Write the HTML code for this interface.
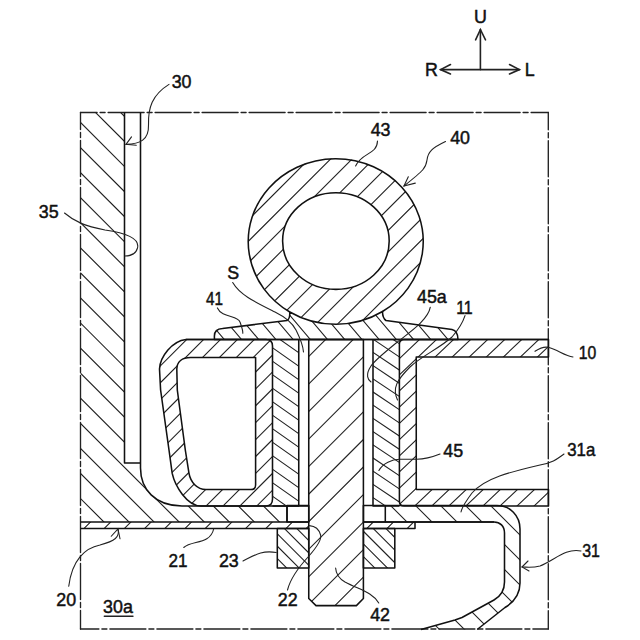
<!DOCTYPE html>
<html><head><meta charset="utf-8"><style>html,body{margin:0;padding:0;background:#fff;width:640px;height:640px;overflow:hidden}svg{display:block}</style></head>
<body><svg width="640" height="640" viewBox="0 0 640 640">
<defs><clipPath id="c1"><path d="M80.5 112.5L124.5 112.5L124.5 463L140.5 463L140.5 468C140.5 489 155 506 182 506L287 506L287 522L80.5 522Z" clip-rule="evenodd" fill-rule="evenodd"/></clipPath><clipPath id="c2"><path d="M80.5 522H308.75V528.5H80.5Z M363.4 522H415V528.5H363.4Z" clip-rule="evenodd" fill-rule="evenodd"/></clipPath><clipPath id="c3"><path d="M186 339.5L266 339.5Q272.5 339.5 272.5 346L272.5 499Q272.5 506 266 506L201 506C187 506 175 486 172.2 473.4L169 450L160.6 390L159.5 369C160 357 172 341 186 339.5Z M190.6 357.5L255.6 357.5L255.6 485Q255.6 489.5 251 489.5L206 489.5C197 489.5 190.5 482 189 473.4L185.3 450L177.3 390L176.8 369C177 362 182 357.5 190.6 357.5Z" clip-rule="evenodd" fill-rule="evenodd"/></clipPath><clipPath id="c4"><path d="M272.5 339.5H298.75V505.5H272.5Z" clip-rule="evenodd" fill-rule="evenodd"/></clipPath><clipPath id="c5"><path d="M373 339.5H399.4V505.5H373Z" clip-rule="evenodd" fill-rule="evenodd"/></clipPath><clipPath id="c6"><path d="M404 339.5L548.5 339.5L548.5 357L416.25 357L416.25 489.5L548.5 489.5L548.5 506L404 506Q399.4 506 399.4 501L399.4 344Q399.4 339.5 404 339.5Z" clip-rule="evenodd" fill-rule="evenodd"/></clipPath><clipPath id="c7"><path d="M385.3 505.5L497 505.5C510 505.5 520 515.5 520 529L520 583C520 595 514 602 505 607.5L477.2 629.5L421 629.5L455 620L462 617.5L494 600C501 596 504.5 590 504.5 582L504.5 533C504.5 526 500 522 494 522L385.3 522Z" clip-rule="evenodd" fill-rule="evenodd"/></clipPath><clipPath id="c8"><path d="M277.3 528.5H308.75V568H277.3Z" clip-rule="evenodd" fill-rule="evenodd"/></clipPath><clipPath id="c9"><path d="M363.4 528.5H394.8V568H363.4Z" clip-rule="evenodd" fill-rule="evenodd"/></clipPath><clipPath id="c10"><path d="M248.39999999999998 241.05A87.5 82.8 0 1 0 423.4 241.05A87.5 82.8 0 1 0 248.39999999999998 241.05Z M282.59999999999997 241.05A53.3 48.3 0 1 0 389.2 241.05A53.3 48.3 0 1 0 282.59999999999997 241.05Z" clip-rule="evenodd" fill-rule="evenodd"/></clipPath><clipPath id="c11"><path d="M214.4 339.5L214.4 336C214.4 331 217 328.8 222.5 328.5L287 320.5Q290 319 289.8 312A87.5 82.8 0 0 0 382.5 311.5Q382.5 318 386 320.5L452 329.5Q458 331 458 339.5Z" clip-rule="evenodd" fill-rule="evenodd"/></clipPath><clipPath id="c12"><path d="M308.75 339.5L363.4 339.5L363.4 598.5L356.4 605.6L316 605.6L308.75 598.5Z" clip-rule="evenodd" fill-rule="evenodd"/></clipPath></defs>
<rect width="640" height="640" fill="#fff"/>
<path d="M80.5 112.5H548.3" stroke="#222" stroke-width="1.35" fill="none" stroke-linecap="round" stroke-dasharray="36 3 5 3" stroke-dashoffset="19.4" stroke-linecap="butt"/>
<path d="M80.5 112.5V629" stroke="#222" stroke-width="1.35" fill="none" stroke-linecap="round" stroke-dasharray="36 3 5 3" stroke-dashoffset="19" stroke-linecap="butt"/>
<path d="M548.3 112.5V629" stroke="#222" stroke-width="1.35" fill="none" stroke-linecap="round" stroke-dasharray="36 3 5 3" stroke-dashoffset="18.8" stroke-linecap="butt"/>
<path d="M80.5 629H548.3" stroke="#222" stroke-width="1.35" fill="none" stroke-linecap="round" stroke-dasharray="36 3 5 3" stroke-dashoffset="17.6" stroke-linecap="butt"/>
<path clip-path="url(#c1)" d="M80.00 -103.63L290.00 106.37M80.00 -78.56L290.00 131.44M80.00 -53.49L290.00 156.51M80.00 -28.42L290.00 181.58M80.00 -3.35L290.00 206.65M80.00 21.72L290.00 231.72M80.00 46.79L290.00 256.79M80.00 71.86L290.00 281.86M80.00 96.93L290.00 306.93M80.00 122.00L290.00 332.00M80.00 147.07L290.00 357.07M80.00 172.14L290.00 382.14M80.00 197.21L290.00 407.21M80.00 222.28L290.00 432.28M80.00 247.35L290.00 457.35M80.00 272.42L290.00 482.42M80.00 297.49L290.00 507.49M80.00 322.56L290.00 532.56M80.00 347.63L290.00 557.63M80.00 372.70L290.00 582.70M80.00 397.77L290.00 607.77M80.00 422.84L290.00 632.84M80.00 447.91L290.00 657.91M80.00 472.98L290.00 682.98M80.00 498.05L290.00 708.05" stroke="#222" stroke-width="1.15" fill="none"/>
<path d="M124.5 112.5V463H140.5" stroke="#111" stroke-width="1.55" fill="none" stroke-linejoin="round" />
<path d="M140.5 112.5V468C140.5 489 155 506 182 506H308.75" stroke="#111" stroke-width="1.55" fill="none" stroke-linejoin="round" />
<path d="M287 506V522" stroke="#111" stroke-width="1.55" fill="none" stroke-linejoin="round" />
<path clip-path="url(#c2)" d="M80.00 512.30L416.00 176.30M80.00 532.50L416.00 196.50M80.00 552.70L416.00 216.70M80.00 572.90L416.00 236.90M80.00 593.10L416.00 257.10M80.00 613.30L416.00 277.30M80.00 633.50L416.00 297.50M80.00 653.70L416.00 317.70M80.00 673.90L416.00 337.90M80.00 694.10L416.00 358.10M80.00 714.30L416.00 378.30M80.00 734.50L416.00 398.50M80.00 754.70L416.00 418.70M80.00 774.90L416.00 438.90M80.00 795.10L416.00 459.10M80.00 815.30L416.00 479.30M80.00 835.50L416.00 499.50M80.00 855.70L416.00 519.70" stroke="#222" stroke-width="1.1" fill="none"/>
<path d="M80.5 522H308.75M363.4 522H494" stroke="#111" stroke-width="1.55" fill="none" stroke-linejoin="round" />
<path d="M80.5 528.5H308.75M363.4 528.5H415V522" stroke="#111" stroke-width="1.55" fill="none" stroke-linejoin="round" />
<path clip-path="url(#c3)" d="M158.00 334.40L274.00 218.40M158.00 351.30L274.00 235.30M158.00 368.20L274.00 252.20M158.00 385.10L274.00 269.10M158.00 402.00L274.00 286.00M158.00 418.90L274.00 302.90M158.00 435.80L274.00 319.80M158.00 452.70L274.00 336.70M158.00 469.60L274.00 353.60M158.00 486.50L274.00 370.50M158.00 503.40L274.00 387.40M158.00 520.30L274.00 404.30M158.00 537.20L274.00 421.20M158.00 554.10L274.00 438.10M158.00 571.00L274.00 455.00M158.00 587.90L274.00 471.90M158.00 604.80L274.00 488.80M158.00 621.70L274.00 505.70" stroke="#222" stroke-width="1.1" fill="none"/>
<path d="M186 339.5L266 339.5Q272.5 339.5 272.5 346L272.5 499Q272.5 506 266 506L201 506C187 506 175 486 172.2 473.4L169 450L160.6 390L159.5 369C160 357 172 341 186 339.5Z" stroke="#111" stroke-width="1.55" fill="none" stroke-linejoin="round" />
<path d="M190.6 357.5L255.6 357.5L255.6 485Q255.6 489.5 251 489.5L206 489.5C197 489.5 190.5 482 189 473.4L185.3 450L177.3 390L176.8 369C177 362 182 357.5 190.6 357.5Z" stroke="#111" stroke-width="1.55" fill="none" stroke-linejoin="round" />
<path clip-path="url(#c4)" d="M272.00 306.90L300.00 326.50M272.00 320.40L300.00 340.00M272.00 333.90L300.00 353.50M272.00 347.40L300.00 367.00M272.00 360.90L300.00 380.50M272.00 374.40L300.00 394.00M272.00 387.90L300.00 407.50M272.00 401.40L300.00 421.00M272.00 414.90L300.00 434.50M272.00 428.40L300.00 448.00M272.00 441.90L300.00 461.50M272.00 455.40L300.00 475.00M272.00 468.90L300.00 488.50M272.00 482.40L300.00 502.00M272.00 495.90L300.00 515.50" stroke="#222" stroke-width="1.1" fill="none"/>
<path clip-path="url(#c5)" d="M372.00 312.14L400.00 330.90M372.00 325.34L400.00 344.10M372.00 338.54L400.00 357.30M372.00 351.74L400.00 370.50M372.00 364.94L400.00 383.70M372.00 378.14L400.00 396.90M372.00 391.34L400.00 410.10M372.00 404.54L400.00 423.30M372.00 417.74L400.00 436.50M372.00 430.94L400.00 449.70M372.00 444.14L400.00 462.90M372.00 457.34L400.00 476.10M372.00 470.54L400.00 489.30M372.00 483.74L400.00 502.50M372.00 496.94L400.00 515.70" stroke="#222" stroke-width="1.1" fill="none"/>
<path d="M272.5 506H298.75V339.5" stroke="#111" stroke-width="1.55" fill="none" stroke-linejoin="round" />
<path d="M373 339.5V506H399.4" stroke="#111" stroke-width="1.55" fill="none" stroke-linejoin="round" />
<path clip-path="url(#c6)" d="M398.00 327.50L550.00 183.10M398.00 343.70L550.00 199.30M398.00 359.90L550.00 215.50M398.00 376.10L550.00 231.70M398.00 392.30L550.00 247.90M398.00 408.50L550.00 264.10M398.00 424.70L550.00 280.30M398.00 440.90L550.00 296.50M398.00 457.10L550.00 312.70M398.00 473.30L550.00 328.90M398.00 489.50L550.00 345.10M398.00 505.70L550.00 361.30M398.00 521.90L550.00 377.50M398.00 538.10L550.00 393.70M398.00 554.30L550.00 409.90M398.00 570.50L550.00 426.10M398.00 586.70L550.00 442.30M398.00 602.90L550.00 458.50M398.00 619.10L550.00 474.70M398.00 635.30L550.00 490.90" stroke="#222" stroke-width="1.1" fill="none"/>
<path d="M404 339.5L548.5 339.5L548.5 357L416.25 357L416.25 489.5L548.5 489.5L548.5 506L404 506Q399.4 506 399.4 501L399.4 344Q399.4 339.5 404 339.5Z" stroke="#111" stroke-width="1.55" fill="none" stroke-linejoin="round" />
<path d="M287 505.5H308.75V522H287Z" stroke="#111" stroke-width="1.55" fill="none" stroke-linejoin="round" />
<path d="M363.4 505.5H385.3V522H363.4Z" stroke="#111" stroke-width="1.55" fill="none" stroke-linejoin="round" />
<path clip-path="url(#c7)" d="M384.00 349.00L522.00 487.00M384.00 374.00L522.00 512.00M384.00 399.00L522.00 537.00M384.00 424.00L522.00 562.00M384.00 449.00L522.00 587.00M384.00 474.00L522.00 612.00M384.00 499.00L522.00 637.00M384.00 524.00L522.00 662.00M384.00 549.00L522.00 687.00M384.00 574.00L522.00 712.00M384.00 599.00L522.00 737.00M384.00 624.00L522.00 762.00" stroke="#222" stroke-width="1.1" fill="none"/>
<path d="M385.3 505.5L497 505.5C510 505.5 520 515.5 520 529L520 583C520 595 514 602 505 607.5L477.2 629.5" stroke="#111" stroke-width="1.55" fill="none" stroke-linejoin="round" />
<path d="M421 629.5L455 620L462 617.5L494 600C501 596 504.5 590 504.5 582L504.5 533C504.5 526 500 522 494 522L385.3 522" stroke="#111" stroke-width="1.55" fill="none" stroke-linejoin="round" />
<path clip-path="url(#c8)" d="M276.00 482.90L310.00 516.90M276.00 495.30L310.00 529.30M276.00 507.70L310.00 541.70M276.00 520.10L310.00 554.10M276.00 532.50L310.00 566.50M276.00 544.90L310.00 578.90M276.00 557.30L310.00 591.30" stroke="#222" stroke-width="1.1" fill="none"/>
<path clip-path="url(#c9)" d="M362.00 491.95L396.00 525.95M362.00 504.60L396.00 538.60M362.00 517.25L396.00 551.25M362.00 529.90L396.00 563.90M362.00 542.55L396.00 576.55M362.00 555.20L396.00 589.20M362.00 567.85L396.00 601.85" stroke="#222" stroke-width="1.1" fill="none"/>
<path d="M277.3 528.5H308.75V568H277.3Z" stroke="#111" stroke-width="1.55" fill="none" stroke-linejoin="round" />
<path d="M363.4 528.5H394.8V568H363.4Z" stroke="#111" stroke-width="1.55" fill="none" stroke-linejoin="round" />
<path clip-path="url(#c10)" d="M247.00 156.60L426.00 -22.40M247.00 178.10L426.00 -0.90M247.00 199.60L426.00 20.60M247.00 221.10L426.00 42.10M247.00 242.60L426.00 63.60M247.00 264.10L426.00 85.10M247.00 285.60L426.00 106.60M247.00 307.10L426.00 128.10M247.00 328.60L426.00 149.60M247.00 350.10L426.00 171.10M247.00 371.60L426.00 192.60M247.00 393.10L426.00 214.10M247.00 414.60L426.00 235.60M247.00 436.10L426.00 257.10M247.00 457.60L426.00 278.60M247.00 479.10L426.00 300.10M247.00 500.60L426.00 321.60" stroke="#222" stroke-width="1.1" fill="none"/>
<path clip-path="url(#c11)" d="M213.00 1.34L460.00 292.80M213.00 21.64L460.00 313.10M213.00 41.94L460.00 333.40M213.00 62.24L460.00 353.70M213.00 82.54L460.00 374.00M213.00 102.84L460.00 394.30M213.00 123.14L460.00 414.60M213.00 143.44L460.00 434.90M213.00 163.74L460.00 455.20M213.00 184.04L460.00 475.50M213.00 204.34L460.00 495.80M213.00 224.64L460.00 516.10M213.00 244.94L460.00 536.40M213.00 265.24L460.00 556.70M213.00 285.54L460.00 577.00M213.00 305.84L460.00 597.30M213.00 326.14L460.00 617.60" stroke="#222" stroke-width="1.1" fill="none"/>
<path d="M214.4 339.5L214.4 336C214.4 331 217 328.8 222.5 328.5L287 320.5Q290 319 289.8 312A87.5 82.8 0 0 0 382.5 311.5Q382.5 318 386 320.5L452 329.5Q458 331 458 339.5Z" stroke="#111" stroke-width="1.55" fill="none" stroke-linejoin="round" />
<path d="M282.59999999999997 241.05A53.3 48.3 0 1 0 389.2 241.05A53.3 48.3 0 1 0 282.59999999999997 241.05Z" stroke="#111" stroke-width="1.55" fill="none" stroke-linejoin="round" />
<path d="M289.8 312A87.5 82.8 0 1 1 382.5 311.5" stroke="#111" stroke-width="1.55" fill="none" stroke-linejoin="round" />
<path clip-path="url(#c12)" d="M307.00 330.62L365.00 272.62M307.00 358.16L365.00 300.16M307.00 385.70L365.00 327.70M307.00 413.24L365.00 355.24M307.00 440.78L365.00 382.78M307.00 468.32L365.00 410.32M307.00 495.86L365.00 437.86M307.00 523.40L365.00 465.40M307.00 550.94L365.00 492.94M307.00 578.48L365.00 520.48M307.00 606.02L365.00 548.02M307.00 633.56L365.00 575.56M307.00 661.10L365.00 603.10" stroke="#222" stroke-width="1.1" fill="none"/>
<path d="M308.75 339.5L363.4 339.5L363.4 598.5L356.4 605.6L316 605.6L308.75 598.5Z" stroke="#111" stroke-width="1.55" fill="none" stroke-linejoin="round" />
<path d="M186 339.5H548.5" stroke="#111" stroke-width="1.55" fill="none" stroke-linejoin="round" />
<path d="M480.4 29.5V69.6" stroke="#222" stroke-width="1.6" fill="none" stroke-linecap="round" />
<path d="M475.6 39.8L480.4 29.5L485.5 39.8" stroke="#222" stroke-width="1.6" fill="none" stroke-linecap="round" />
<path d="M440.6 69.6H519.4" stroke="#222" stroke-width="1.6" fill="none" stroke-linecap="round" />
<path d="M450.5 64.5L440.6 69.6L450.5 73.9" stroke="#222" stroke-width="1.6" fill="none" stroke-linecap="round" />
<path d="M509.5 64.5L519.4 69.6L509.5 73.9" stroke="#222" stroke-width="1.6" fill="none" stroke-linecap="round" />
<path d="M169 84.4C152 95 148 108 148.5 125C149 140 140 144 126 144.4" stroke="#222" stroke-width="1.1" fill="none" stroke-linecap="round" />
<path d="M131.5 136.9L126 144.4L136.25 145.3" stroke="#222" stroke-width="1.1" fill="none" stroke-linecap="round" />
<path d="M64.5 213C75 222 85 226 105 230C125 233 140 238 137.5 248C136 254 130 256 125 256" stroke="#222" stroke-width="1.1" fill="none" stroke-linecap="round" />
<path d="M377.5 141C377 155 362 152 355.6 166" stroke="#222" stroke-width="1.1" fill="none" stroke-linecap="round" />
<path d="M445.5 141.6C432 148 428 152 427 160C426 168 424 170 404 186" stroke="#222" stroke-width="1.1" fill="none" stroke-linecap="round" />
<path d="M408.3 176.8L404 186L415.3 183.1" stroke="#222" stroke-width="1.1" fill="none" stroke-linecap="round" />
<path d="M232.7 282.5C240 295 255 302 275 312C285 317 292 322 296 330C300 338 303 345 303.5 352" stroke="#222" stroke-width="1.1" fill="none" stroke-linecap="round" />
<path d="M217.4 307.9C222 318 238 315 240 322C242 328 243 330 242.8 333.3" stroke="#222" stroke-width="1.1" fill="none" stroke-linecap="round" />
<path d="M430.3 307.2C428 320 410 332 397.5 341.9C385 352 375 360 371 366C365 375 368 380 371 382" stroke="#222" stroke-width="1.1" fill="none" stroke-linecap="round" />
<path d="M465 315.6C462 325 458 330 452 337C440 348 420 357 410 367C397 380 392 388 397.5 400" stroke="#222" stroke-width="1.1" fill="none" stroke-linecap="round" />
<path d="M573 357C565 356 558 350 549 347.5C544 346 540 348 535 351.3" stroke="#222" stroke-width="1.1" fill="none" stroke-linecap="round" />
<path d="M440 454C430 458 425 459.2 416.7 459.2L399.5 459.2C392 459.5 383 463 378.9 470.4" stroke="#222" stroke-width="1.1" fill="none" stroke-linecap="round" />
<path d="M564 454C558 458 555 462 540 465C510 472 485 478 472 493C466 501 462 507 461 512" stroke="#222" stroke-width="1.1" fill="none" stroke-linecap="round" />
<path d="M581 551C565 548 555 560 540 566C532 568 527 567 522 567" stroke="#222" stroke-width="1.1" fill="none" stroke-linecap="round" />
<path d="M528 561L522 567L529 571" stroke="#222" stroke-width="1.1" fill="none" stroke-linecap="round" />
<path d="M68.75 586.25C72 560 85 548 100 545C115 541 120 537 118 529" stroke="#222" stroke-width="1.1" fill="none" stroke-linecap="round" />
<path d="M111.25 536.25L118 529L120 538.75" stroke="#222" stroke-width="1.1" fill="none" stroke-linecap="round" />
<path d="M183.75 547.5C192 540 210 545 213.75 528.75" stroke="#222" stroke-width="1.1" fill="none" stroke-linecap="round" />
<path d="M243 561C255 555 262 550 276.3 552.5" stroke="#222" stroke-width="1.1" fill="none" stroke-linecap="round" />
<path d="M287.5 590C290 580 296 570 308.75 556.25C316 548 322 540 320.6 535C319 529 314 526 309.4 525.6" stroke="#222" stroke-width="1.1" fill="none" stroke-linecap="round" />
<path d="M335.6 568C336 574 338 578 345 582C360 590 372 592 378.75 603" stroke="#222" stroke-width="1.1" fill="none" stroke-linecap="round" />
<path d="M104.25 616.25H133" stroke="#222" stroke-width="1.3" fill="none" stroke-linecap="round" />
<g font-family="Liberation Sans, sans-serif" fill="#111" stroke="#111" stroke-width="0.5">
<text transform="translate(474.07 23.2) scale(0.94 1)" font-size="19" >U</text>
<text transform="translate(424.94 75.95) scale(0.94 1)" font-size="19" >R</text>
<text transform="translate(524.73 75.6) scale(0.94 1)" font-size="19" >L</text>
<text transform="translate(171.66 87.5) scale(0.94 1)" font-size="19" >30</text>
<text transform="translate(370.68 135.55) scale(0.94 1)" font-size="19" >43</text>
<text transform="translate(450.13 144.3) scale(0.94 1)" font-size="19" >40</text>
<text transform="translate(38.86 217.55) scale(0.94 1)" font-size="19" >35</text>
<text transform="translate(227.14 278.85) scale(0.94 1)" font-size="19" >S</text>
<text transform="translate(206.1 304.65) scale(0.804761904761905 1)" font-size="19" >41</text>
<text transform="translate(416.96 303.35) scale(0.94 1)" font-size="19" >45a</text>
<text transform="translate(456.16 314.2) scale(0.8388888888888901 1)" font-size="19" >11</text>
<text transform="translate(578.77 358.95) scale(0.8300000000000012 1)" font-size="19" >10</text>
<text transform="translate(443.25 457.12) scale(0.94 1)" font-size="19" >45</text>
<text transform="translate(567.21 456.38) scale(0.8870967741935484 1)" font-size="19" >31a</text>
<text transform="translate(582.16 556.7) scale(0.8399999999999977 1)" font-size="19" >31</text>
<text transform="translate(218.91 566.75) scale(0.94 1)" font-size="19" >23</text>
<text transform="translate(168.6 566.88) scale(0.9 1)" font-size="19" >21</text>
<text transform="translate(56.28 606.12) scale(0.94 1)" font-size="19" >20</text>
<text transform="translate(103.11 613.38) scale(0.94 1)" font-size="19" >30a</text>
<text transform="translate(277.86 606.25) scale(0.94 1)" font-size="19" >22</text>
<text transform="translate(370.13 620.75) scale(0.94 1)" font-size="19" >42</text>
</g>
</svg></body></html>
